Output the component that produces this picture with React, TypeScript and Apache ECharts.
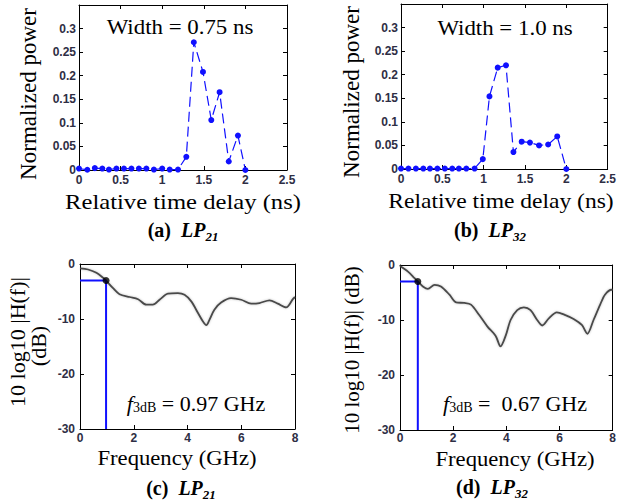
import React, { useEffect, useRef } from "react";
import * as echarts from "echarts";

// (a) LP21 power delay profile
const delayA = [0, 0.1, 0.19, 0.28, 0.36, 0.45, 0.54, 0.63, 0.72, 0.81, 0.9, 1.0, 1.09, 1.19, 1.29, 1.38, 1.49, 1.59, 1.69, 1.8, 1.91, 2.0];
const powerA = [0.003, 0.0005, 0.004, 0.003, 0.001, 0.003, 0.003, 0.003, 0.003, 0.003, 0.001, 0.003, 0.001, 0.001, 0.028, 0.271, 0.208, 0.106, 0.165, 0.018, 0.073, 0];
// (b) LP32 power delay profile
const delayB = [0, 0.09, 0.18, 0.27, 0.35, 0.44, 0.53, 0.62, 0.7, 0.79, 0.89, 0.99, 1.07, 1.17, 1.27, 1.36, 1.46, 1.56, 1.67, 1.78, 1.89, 2.0];
const powerB = [0.001, 0.001, 0.001, 0.001, 0.001, 0.001, 0.001, 0.001, 0.001, 0.001, 0.001, 0.021, 0.154, 0.215, 0.22, 0.036, 0.058, 0.056, 0.05, 0.052, 0.069, 0];
// (c) LP21 frequency response
const freqC = [0, 0.3, 0.61, 0.86, 0.97, 1.23, 1.47, 1.85, 2.16, 2.47, 2.71, 2.96, 3.27, 3.64, 3.89, 4.14, 4.39, 4.57, 4.7, 4.82, 5.0, 5.25, 5.62, 6.0, 6.37, 6.68, 7.05, 7.36, 7.67, 7.92, 8.0];
const dbC = [-0.8, -1.0, -1.6, -2.5, -3.0, -4.4, -5.5, -6.0, -6.4, -7.4, -7.4, -6.5, -5.4, -5.3, -5.6, -6.8, -8.9, -10.4, -11.1, -10.1, -8.3, -7.0, -6.2, -6.5, -7.2, -7.1, -6.6, -7.2, -7.9, -6.4, -6.0];
// (d) LP32 frequency response
const freqD = [0, 0.3, 0.55, 0.67, 0.86, 1.05, 1.3, 1.54, 1.86, 2.11, 2.42, 2.67, 2.98, 3.29, 3.6, 3.78, 3.98, 4.16, 4.41, 4.66, 4.91, 5.16, 5.35, 5.6, 5.9, 6.22, 6.53, 6.84, 7.05, 7.28, 7.53, 7.71, 7.96, 8.0];
const dbD = [-0.2, -1.2, -2.4, -3.0, -3.9, -4.35, -3.6, -3.9, -5.4, -6.8, -6.9, -7.2, -9.1, -11.2, -12.9, -14.8, -12.8, -10.0, -8.2, -7.7, -8.2, -10.0, -11.0, -9.7, -8.6, -9.1, -9.8, -10.9, -12.5, -10.0, -7.2, -5.4, -4.5, -4.5];

const f3dbC = 0.97;
const f3dbD = 0.67;
const level3dB = -3;

const SERIF = "'Liberation Serif', 'Times New Roman', serif";
const SANS = "'Liberation Sans', Arial, sans-serif";
const TICK_COLOR = "#2e2e44";
const BLUE = "#1010ff";

const grids = [
  { left: 79, top: 5, width: 208, height: 165 },
  { left: 401, top: 4, width: 211, height: 165 },
  { left: 80, top: 264, width: 215, height: 165 },
  { left: 400, top: 265, width: 214, height: 165 },
];

function makeAxes(g: number, xr: number[], yr: number[], yFmt: (v: number) => string, yMargin: number, xMargin: number) {
  const line = { show: true, onZero: false, lineStyle: { color: "#000", width: 1 } };
  const tick = { show: true, inside: true, length: 4, lineStyle: { color: "#000", width: 1 } };
  const lbl = { fontFamily: SANS, fontSize: 12, fontWeight: "bold" as const, color: TICK_COLOR };
  const xa = (pos: string, show: boolean) => ({
    gridIndex: g, type: "value", position: pos, min: xr[0], max: xr[1], interval: xr[2],
    axisLine: line, axisTick: tick, splitLine: { show: false },
    axisLabel: show ? { ...lbl, margin: xMargin, formatter: (v: number) => String(Math.round(v * 100) / 100) } : { show: false },
  });
  const ya = (pos: string, show: boolean) => ({
    gridIndex: g, type: "value", position: pos, min: yr[0], max: yr[1], interval: yr[2],
    axisLine: line, axisTick: tick, splitLine: { show: false },
    axisLabel: show ? { ...lbl, margin: yMargin, formatter: yFmt } : { show: false },
  });
  return { x: [xa("bottom", true), xa("top", false)], y: [ya("left", true), ya("right", false)] };
}

const powFmt = (v: number) => (v > 0.34 ? "" : String(Math.round(v * 100) / 100));
const dbFmt = (v: number) => String(Math.round(v));

function text(x: number, y: number, t: string, font: string, rotation = 0, sx = 1) {
  return {
    type: "text", x, y, rotation, scaleX: sx,
    style: { text: t, font, fill: "#000", align: "center", verticalAlign: "middle" },
  };
}

function caption(x: number, y: number, letter: string, sub: string) {
  return {
    type: "text", x, y,
    style: {
      text: `{a|(${letter})}{sp|  }{b|LP}{c|${sub}}`,
      align: "center", verticalAlign: "middle", fill: "#000",
      rich: {
        a: { fontFamily: SERIF, fontSize: 20, fontWeight: "bold", fill: "#000" },
        sp: { fontFamily: SERIF, fontSize: 20, fill: "#000" },
        b: { fontFamily: SERIF, fontSize: 20, fontWeight: "bold", fontStyle: "italic", fill: "#000" },
        c: { fontFamily: SERIF, fontSize: 13, fontWeight: "bold", fontStyle: "italic", fill: "#000", padding: [12, 0, 0, 0] },
      },
    },
  };
}

function f3db(x: number, y: number, val: string) {
  return {
    type: "text", x, y,
    style: {
      text: `{f|f}{s|3dB}{t|${val}}`,
      align: "center", verticalAlign: "middle", fill: "#000",
      rich: {
        f: { fontFamily: SERIF, fontSize: 22, fontStyle: "italic", fill: "#000" },
        s: { fontFamily: SERIF, fontSize: 14, fill: "#000", padding: [8, 0, 0, 0] },
        t: { fontFamily: SERIF, fontSize: 22, fill: "#000" },
      },
    },
  };
}

export default function App() {
  const ref = useRef<HTMLDivElement>(null);
  useEffect(() => {
    if (!ref.current) return;
    const chart = echarts.init(ref.current, undefined, { renderer: "svg" });
    const axA = makeAxes(0, [0, 2.5, 0.5], [0, 0.35, 0.05], powFmt, 3, 4);
    const axB = makeAxes(1, [0, 2.5, 0.5], [0, 0.35, 0.05], powFmt, 3, 4);
    const axC = makeAxes(2, [0, 8, 2], [-30, 0, 10], dbFmt, 5, 3);
    const axD = makeAxes(3, [0, 8, 2], [-30, 0, 10], dbFmt, 5, 2);

    const pdp = (xi: number, xs: number[], ys: number[]) => ({
      type: "line", xAxisIndex: xi, yAxisIndex: xi,
      data: xs.map((x, i) => [x, ys[i]]),
      symbol: "circle", symbolSize: 6, showSymbol: true,
      itemStyle: { color: BLUE },
      lineStyle: { color: BLUE, width: 1.2, type: [10, 5] },
    });
    const resp = (xi: number, xs: number[], ys: number[]) => ({
      type: "line", xAxisIndex: xi, yAxisIndex: xi,
      data: xs.map((x, i) => [x, ys[i]]),
      symbol: "none", smooth: 0.3,
      lineStyle: { color: "#4a4a4a", width: 1.8, shadowColor: "rgba(0,0,0,0.25)", shadowBlur: 2 },
    });
    const marker = (xi: number, f: number) => [
      {
        type: "line", xAxisIndex: xi, yAxisIndex: xi,
        data: [[0, level3dB], [f, level3dB], [f, -30]],
        symbol: "none", lineStyle: { color: BLUE, width: 2 }, z: 3,
      },
      {
        type: "scatter", xAxisIndex: xi, yAxisIndex: xi,
        data: [[f, level3dB]], symbol: "circle", symbolSize: 7,
        itemStyle: { color: "#000" }, z: 4,
      },
    ];

    chart.setOption({
      animation: false,
      backgroundColor: "#fff",
      grid: grids.map((g) => ({ ...g, containLabel: false })),
      xAxis: [...axA.x, ...axB.x, ...axC.x, ...axD.x],
      yAxis: [...axA.y, ...axB.y, ...axC.y, ...axD.y],
      series: [
        pdp(0, delayA, powerA),
        pdp(2, delayB, powerB),
        resp(4, freqC, dbC),
        ...marker(4, f3dbC),
        resp(6, freqD, dbD),
        ...marker(6, f3dbD),
      ],
      graphic: [
        text(180, 27, "Width = 0.75 ns", `22px ${SERIF}`, 0, 1.04),
        text(505, 28, "Width = 1.0 ns", `22px ${SERIF}`, 0, 1.04),
        text(28, 94, "Normalized power", `23px ${SERIF}`, Math.PI / 2),
        text(351, 92, "Normalized power", `23px ${SERIF}`, Math.PI / 2),
        text(183, 201, "Relative time delay (ns)", `22px ${SERIF}`, 0, 1.12),
        text(501, 201, "Relative time delay (ns)", `22px ${SERIF}`, 0, 1.07),
        caption(183, 230, "a", "21"),
        caption(490, 230, "b", "32"),
        text(17, 342, "10 log10 |H(f)|", `22px ${SERIF}`, Math.PI / 2),
        text(38, 346, "(dB)", `22px ${SERIF}`, Math.PI / 2),
        text(352, 350, "10 log10 |H(f)| (dB)", `21px ${SERIF}`, Math.PI / 2),
        text(177, 458, "Frequency (GHz)", `22px ${SERIF}`, 0, 1.03),
        text(515, 459, "Frequency (GHz)", `22px ${SERIF}`, 0, 1.03),
        caption(181, 488, "c", "21"),
        caption(492, 487, "d", "32"),
        f3db(196, 403, " = 0.97 GHz"),
        f3db(515, 403, " =  0.67 GHz"),
      ],
    });
    return () => chart.dispose();
  }, []);
  return (
    <div
      ref={ref}
      style={{ position: "absolute", left: 0, top: 0, width: 619, height: 501, background: "#fff" }}
    />
  );
}
